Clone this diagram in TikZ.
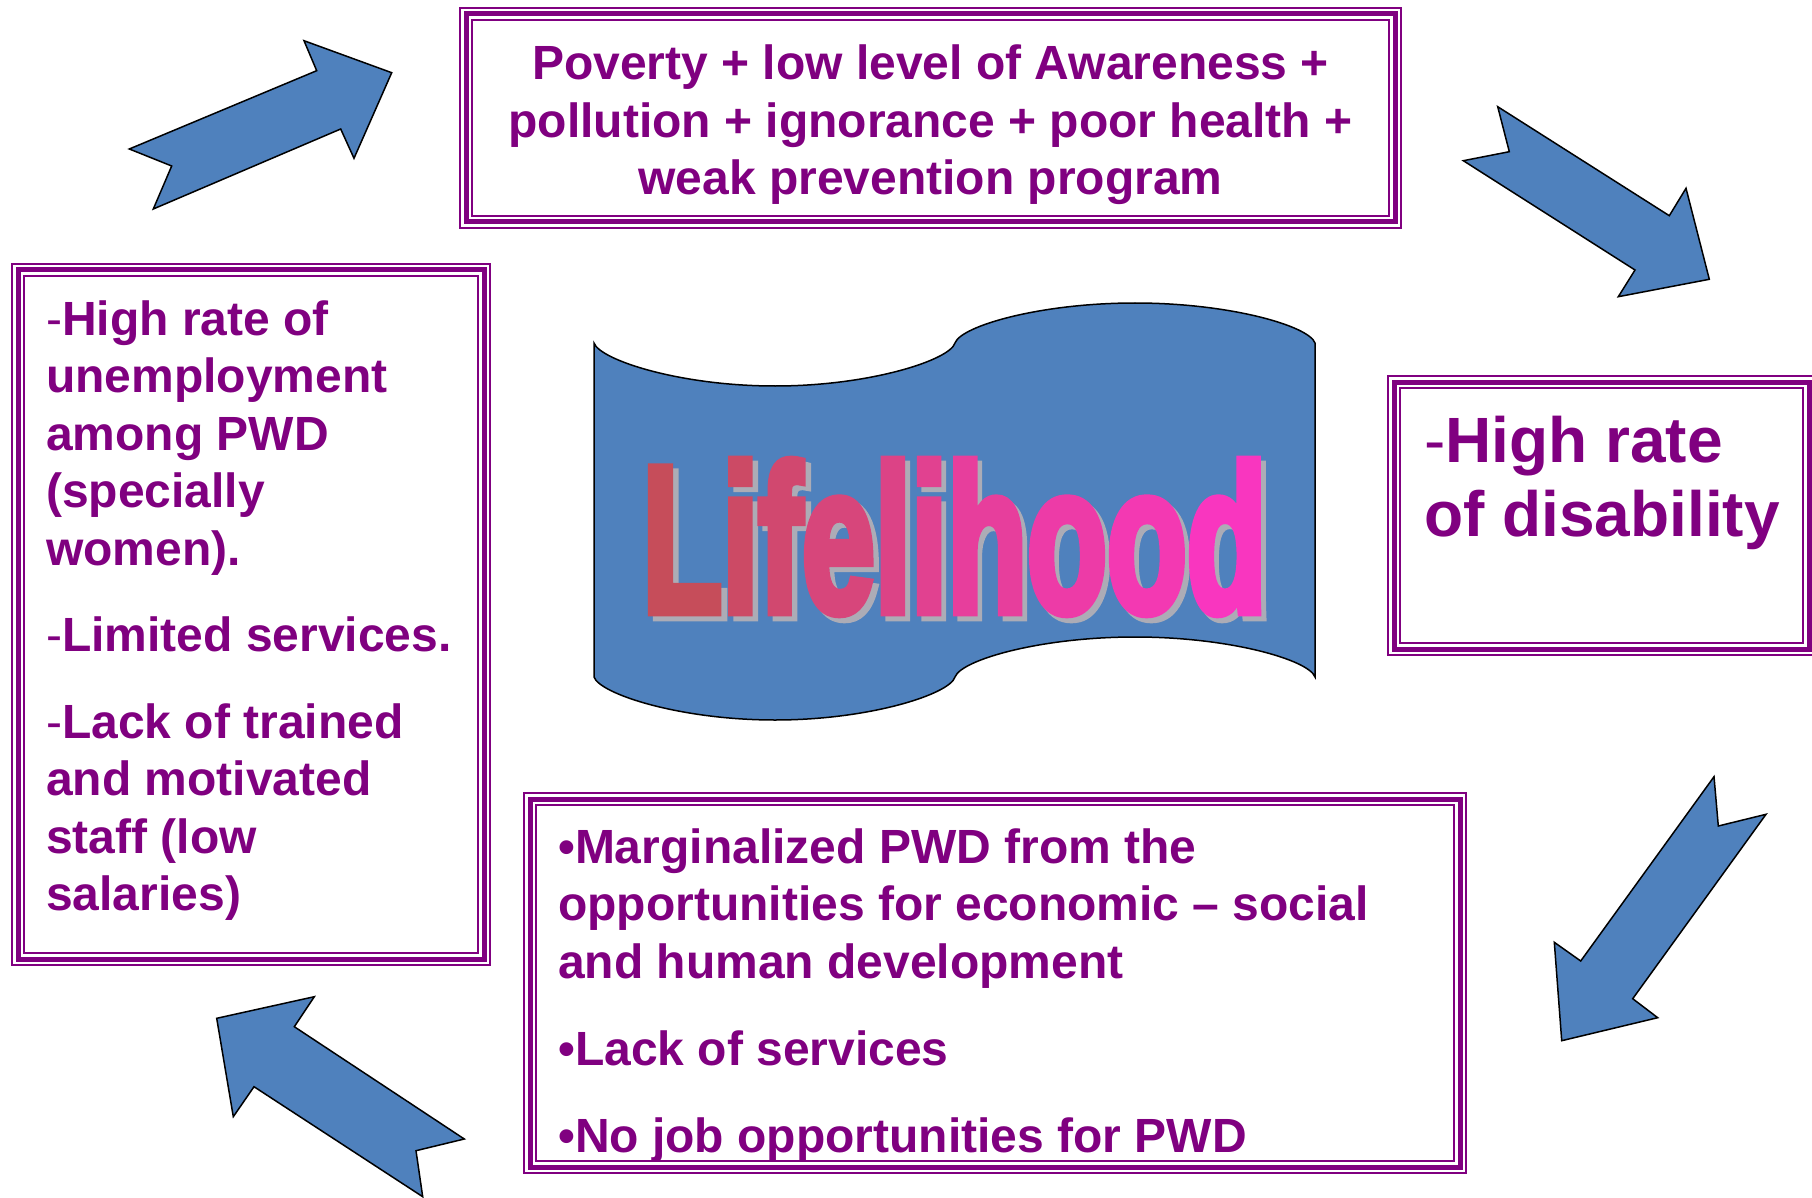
\documentclass[tikz,border=0pt]{standalone}
\usepackage{fontspec}
\usepackage{graphicx}
\setmainfont{Liberation Sans}
\newfontfamily\lifefont{Liberation Sans}[BoldFeatures={FakeBold=5,LetterSpace=-0.5}]
\definecolor{purp}{RGB}{128,0,128}
\definecolor{ablue}{RGB}{79,129,189}
\definecolor{lred}{RGB}{192,80,77}
\definecolor{lpink}{RGB}{255,51,204}
\definecolor{shad}{RGB}{172,172,182}
\newcommand\lc[2]{\textcolor{lpink!#1!lred}{#2}}
\newcommand\lifeshadowword{\resizebox{624pt}{150pt}{\lifefont\bfseries Lifelihood}}
\newcommand\lifeword{\resizebox{624pt}{150pt}{\lifefont\bfseries
  \lc{10}{L}\lc{19}{i}\lc{27}{f}\lc{36}{e}\lc{45}{l}\lc{53}{i}\lc{62}{h}\lc{71}{o}\lc{80}{o}\lc{90}{d}}}
\begin{document}
\begin{tikzpicture}[x=1pt,y=-1pt,
  frame/.style={draw=purp, line width=2pt, rectangle, inner sep=0pt, outer sep=0pt},
  txt/.style={text=purp, font=\fontsize{48}{57.5}\selectfont\bfseries, inner sep=0pt, anchor=base west},
  bigtxt/.style={txt, font=\fontsize{64}{74}\selectfont\bfseries},
  arrowshape/.style={fill=ablue, draw=black, line width=1.5pt, line join=miter},
]
\useasboundingbox[fill=white] (0,0) rectangle (1812,1198);

% framed boxes
\node[frame, minimum width=941pt, minimum height=220pt] (topbox) at (930.5,118) {};
\node[frame, minimum width=478pt, minimum height=701pt] (leftbox) at (251,614.5) {};
\node[frame, minimum width=427pt, minimum height=279pt] (rightbox) at (1601.5,515.5) {};
\node[frame, minimum width=942pt, minimum height=380pt] (botbox) at (995,983) {};
\foreach \n in {topbox,leftbox,rightbox,botbox}{
  \draw[purp, line width=5pt] ([shift={(6,6)}]\n.north west) rectangle ([shift={(-6,-6)}]\n.south east);
  \draw[purp, line width=2pt] ([shift={(12,12)}]\n.north west) rectangle ([shift={(-12,-12)}]\n.south east);
}

% top box text
\node[txt, anchor=base] (t1) at (930.5,80) {Poverty + low level of Awareness +};
\node[txt, anchor=base] (t2) at (930.5,137.5) {pollution + ignorance + poor health +};
\node[txt, anchor=base] (t3) at (930.5,195) {weak prevention program};

% left box text
\node[txt] (l1) at (46,335) {{\mdseries-}High rate of};
\node[txt] (l2) at (46,392.5) {unemployment};
\node[txt] (l3) at (46,450) {among PWD};
\node[txt] (l4) at (46,507.5) {(specially};
\node[txt] (l5) at (46,565) {women).};
\node[txt] (l6) at (46,651.7) {{\mdseries-}Limited services.};
\node[txt] (l7) at (46,738.3) {{\mdseries-}Lack of trained};
\node[txt] (l8) at (46,795.8) {and motivated};
\node[txt] (l9) at (46,853.3) {staff (low};
\node[txt] (l10) at (46,910.8) {salaries)};

% right box text
\node[bigtxt] (r1) at (1424,462.7) {{\mdseries-}High rate};
\node[bigtxt] (r2) at (1424,536.7) {of disability};

% bottom box text
\node[txt] (b1) at (558,863) {•Marginalized PWD from the};
\node[txt] (b2) at (558,920.5) {opportunities for economic – social};
\node[txt] (b3) at (558,978) {and human development};
\node[txt] (b4) at (558,1065) {•Lack of services};
\node[txt] (b5) at (558,1152) {•No job opportunities for PWD};

% flag
\draw[fill=ablue, draw=black, line width=1.5pt]
  (594,343) .. controls (600,360) and (680,386) .. (775,386)
  .. controls (870,386) and (950,360) .. (955,343)
  .. controls (961,326) and (1040,303) .. (1135,303)
  .. controls (1230,303) and (1309,326) .. (1315,343)
  -- (1315,677)
  .. controls (1309,660) and (1230,637) .. (1135,637)
  .. controls (1040,637) and (961,660) .. (955,677)
  .. controls (950,694) and (870,720) .. (775,720)
  .. controls (680,720) and (600,694) .. (594,677) -- cycle;

% Lifelihood word art (shadow, then graded letters)
\node[inner sep=0pt, outer sep=0pt, text=shad] (lifeshadow) at (959.5,542) {\lifeshadowword};
\node[inner sep=0pt, outer sep=0pt] (lifetext) at (954.5,537) {\lifeword};

% block arrows
\draw[arrowshape] (391.7,72.7) -- (354,158.3) -- (340.7,129) -- (153.3,209) -- (171.7,166) -- (129.3,149) -- (316.7,70.7) -- (304,40.7) -- cycle;
\draw[arrowshape] (1497.7,106.7) -- (1509.3,151.7) -- (1463.3,160.7) -- (1635,270) -- (1618.3,296.7) -- (1709.3,279.3) -- (1686,188.3) -- (1669.3,215.7) -- cycle;
\draw[arrowshape] (1714,776.7) -- (1718.3,826) -- (1766,814.3) -- (1632.7,998.7) -- (1657.7,1017.7) -- (1561.7,1040.7) -- (1554.3,942.3) -- (1580.7,961) -- cycle;
\draw[arrowshape] (216.7,1018.3) -- (314.3,996.7) -- (294.3,1026.7) -- (464.3,1139) -- (416,1150.7) -- (422.7,1196.7) -- (254,1086.7) -- (233.3,1116.7) -- cycle;
\end{tikzpicture}
\end{document}
